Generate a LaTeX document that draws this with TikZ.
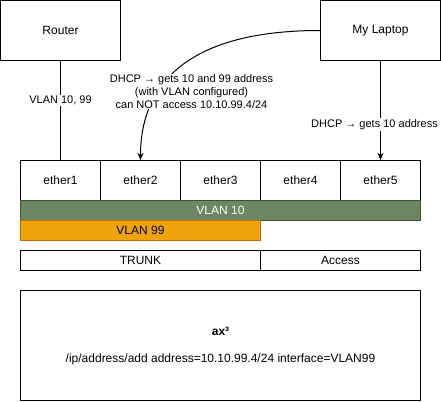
\documentclass[tikz,border=0pt]{standalone}
\usepackage{fontspec}
\setmainfont{Liberation Sans}
\usetikzlibrary{arrows.meta}
\definecolor{vgreen}{HTML}{6D8764}
\definecolor{vgreenl}{HTML}{3A5431}
\definecolor{vorange}{HTML}{F0A30A}
\definecolor{vorangel}{HTML}{BD7000}
\tikzset{
  box/.style={draw=black, line width=1pt, fill=white, inner sep=0pt, font=\fontsize{12}{14}\selectfont},
  lbl/.style={fill=white, inner sep=1pt, align=center, font=\fontsize{11}{12.6}\selectfont},
  conn/.style={line width=1pt, draw=black},
  tip/.style={-{Stealth[length=7pt,width=6pt,inset=2pt]}},
}
\begin{document}
\begin{tikzpicture}[x=1pt,y=-1pt]
\useasboundingbox (0,0) rectangle (441,401);
% top boxes
\node[box, minimum width=120pt, minimum height=60pt] (router) at (60.5,30.5) {Router};
\node[box, minimum width=120pt, minimum height=60pt] (laptop) at (380.5,30.5) {My Laptop};
% ether row
\node[box, minimum width=80pt, minimum height=40pt] (e1) at (60.5,180.5) {ether1};
\node[box, minimum width=80pt, minimum height=40pt] (e2) at (140.5,180.5) {ether2};
\node[box, minimum width=80pt, minimum height=40pt] (e3) at (220.5,180.5) {ether3};
\node[box, minimum width=80pt, minimum height=40pt] (e4) at (300.5,180.5) {ether4};
\node[box, minimum width=80pt, minimum height=40pt] (e5) at (380.5,180.5) {ether5};
% vlans
\node[box, draw=vgreenl, fill=vgreen, text=white, minimum width=400pt, minimum height=20pt] (v10) at (220.5,210.5) {VLAN 10};
\node[box, draw=vorangel, fill=vorange, minimum width=240pt, minimum height=20pt] (v99) at (140.5,230.5) {VLAN 99};
% trunk/access
\node[box, minimum width=240pt, minimum height=20pt] (trunk) at (140.5,260.5) {TRUNK};
\node[box, minimum width=160pt, minimum height=20pt] (access) at (340.5,260.5) {Access};
% bottom box
\node[box, minimum width=400pt, minimum height=110pt] (cfg) at (220.5,345.5) {};
\node[font=\fontsize{12}{14}\selectfont\bfseries, inner sep=0pt] (ax) at (220.5,331.5) {ax³};
\node[font=\fontsize{12}{14}\selectfont, inner sep=0pt] (cmd) at (220.5,359.5) {/ip/address/add address=10.10.99.4/24 interface=VLAN99};
% connectors
\draw[conn] (router.south) -- (e1.north)
  node[lbl, pos=0.4] (l1) {VLAN 10, 99};
\draw[conn, tip] (laptop.south) -- (e5.north);
\node[lbl, inner xsep=0pt] (l2) at (374.5,124.5) {DHCP → gets 10 address};
\draw[conn, tip] (laptop.west) .. controls (180.5,30.5) and (140.5,90) .. (e2.north);
\node[lbl] (l3) at (191.5,91.5) {DHCP → gets 10 and 99 address\\(with VLAN configured)\\can NOT access 10.10.99.4/24};
\end{tikzpicture}
\end{document}
